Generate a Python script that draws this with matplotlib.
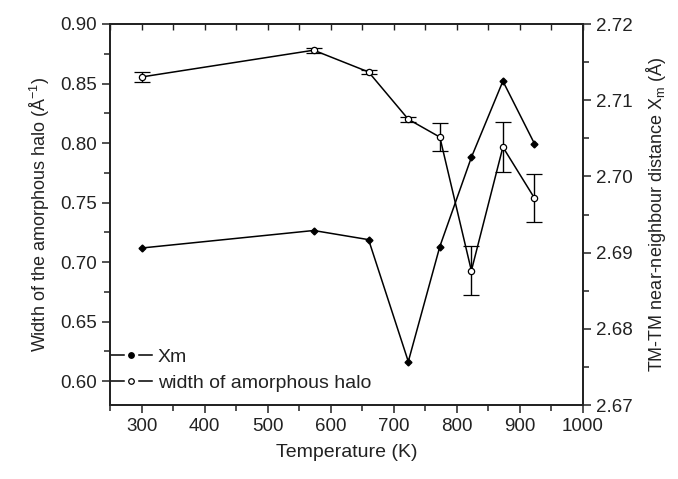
import numpy as np
import matplotlib
matplotlib.use('Agg')
import matplotlib.pyplot as plt
from matplotlib.ticker import MultipleLocator, FormatStrFormatter
from matplotlib.lines import Line2D
from matplotlib.legend_handler import HandlerBase

plt.rcParams['font.family'] = ['Liberation Sans', 'DejaVu Sans']
plt.rcParams['mathtext.fontset'] = 'custom'
plt.rcParams['mathtext.rm'] = 'Liberation Sans'
plt.rcParams['mathtext.it'] = 'Liberation Sans'

# temperatures (K)
temp = [300, 573, 660, 723, 773, 823, 873, 923]
# TM-TM near-neighbour distance Xm (Angstrom), right axis
xm = [2.6906, 2.6929, 2.6917, 2.6757, 2.6908, 2.7025, 2.7125, 2.7043]
# width of amorphous halo (1/Angstrom), left axis
halo = [0.8555, 0.878, 0.8597, 0.820, 0.805, 0.6928, 0.7966, 0.7538]
halo_err = [0.004, 0.002, 0.002, 0.002, 0.012, 0.0205, 0.021, 0.020]

kol = '#222222'


class HandlerQuebrada(HandlerBase):
    # linha - marcador - linha, com espacos em volta do marcador
    def create_artists(self, legend, orig, xd, yd, width, height, fontsize, trans):
        y = yd + height / 2.0
        seg = width * 0.31
        a = Line2D([xd, xd + seg], [y, y], color='black', lw=1.1)
        b = Line2D([xd + width - seg, xd + width], [y, y], color='black', lw=1.1)
        m = Line2D([xd + width / 2.0], [y], ls='none', marker='o',
                   ms=orig.get_markersize(), mfc=orig.get_markerfacecolor(),
                   mec='black', mew=0.9)
        for art in (a, b, m):
            art.set_transform(trans)
        return [a, b, m]


fig = plt.figure(figsize=(6.78, 4.79), dpi=100)
ax = fig.add_axes([110/678, 1 - 405/479, 473/678, 381/479])
ax2 = ax.twinx()

# halo width com barras de erro
ax.errorbar(temp, halo, yerr=halo_err, color='black', lw=1.1,
            marker='o', ms=4.5, mfc='white', mec='black', mew=0.9,
            capsize=6, capthick=1.1, elinewidth=1.0, zorder=3)
# Xm
ax2.plot(temp, xm, color='black', lw=1.1, marker='D', ms=3.5,
         mfc='black', mec='black')

ax.set_xlim(250, 1000)
ax.set_ylim(0.58, 0.90)
ax2.set_ylim(2.67, 2.72)

ax.set_xticks([300, 400, 500, 600, 700, 800, 900, 1000])
ax.xaxis.set_minor_locator(MultipleLocator(50))
ax.yaxis.set_major_locator(MultipleLocator(0.05))
ax.yaxis.set_minor_locator(MultipleLocator(0.025))
ax2.yaxis.set_major_locator(MultipleLocator(0.01))
ax2.yaxis.set_minor_locator(MultipleLocator(0.005))
ax.yaxis.set_major_formatter(FormatStrFormatter('%.2f'))
ax2.yaxis.set_major_formatter(FormatStrFormatter('%.2f'))

for a in (ax, ax2):
    for s in a.spines.values():
        s.set_linewidth(1.3)
        s.set_color(kol)
    a.tick_params(which='both', direction='out', colors=kol, labelsize=13.5,
                  width=1.1)
    a.tick_params(which='major', length=6)
    a.tick_params(which='minor', length=4)

# ticks no topo, para dentro
top = ax.twiny()
top.set_xlim(ax.get_xlim())
top.set_xticks([300, 400, 500, 600, 700, 800, 900, 1000])
top.xaxis.set_minor_locator(MultipleLocator(50))
top.tick_params(which='both', direction='in', labeltop=False, colors=kol,
                width=1.0, length=4)
for s in top.spines.values():
    s.set_visible(False)

ax.set_xlabel('Temperature (K)', fontsize=14, color=kol, labelpad=6)
ax.set_ylabel('Width of the amorphous halo (Å$^{-1}$)', fontsize=13, color=kol,
              labelpad=6)
ax2.set_ylabel('TM-TM near-neighbour distance X$_{m}$ (Å)', fontsize=13,
               color=kol, labelpad=8)

h1 = Line2D([], [], color='black', marker='o', ms=4, mfc='black')
h2 = Line2D([], [], color='black', marker='o', ms=4, mfc='white')
leg = ax.legend([h1, h2], ['Xm', 'width of amorphous halo'], loc='lower left',
                frameon=False, fontsize=14, handlelength=2.1, handletextpad=0.3,
                borderaxespad=0.0, borderpad=0.0, labelspacing=0.42,
                bbox_to_anchor=(0.002, 0.035),
                handler_map={Line2D: HandlerQuebrada()})
for t in leg.get_texts():
    t.set_color(kol)

fig.savefig('out.png', dpi=100)
